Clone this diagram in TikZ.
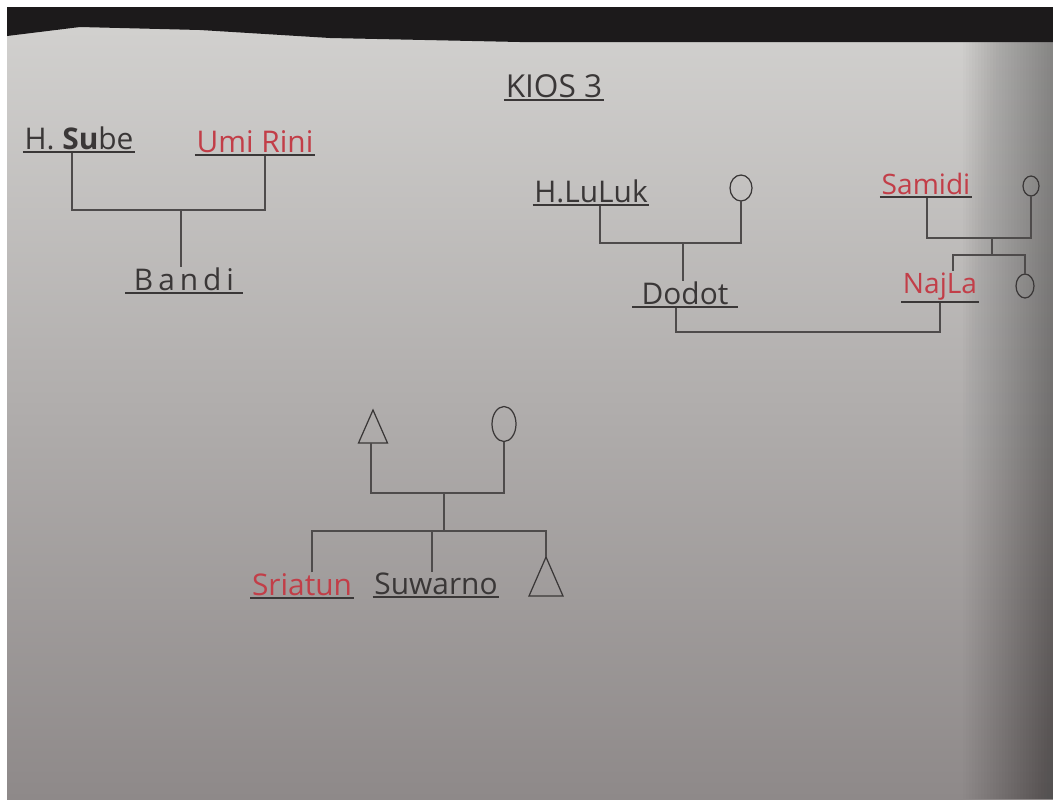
\documentclass[tikz,border=0pt]{standalone}
\usepackage{fontspec}
\setmainfont{Open Sans}
\usetikzlibrary{positioning,shapes.geometric}
\definecolor{paper}{HTML}{D3D2D0}
\definecolor{paperdark}{HTML}{8E8989}
\definecolor{night}{HTML}{1C1A1B}
\definecolor{ink}{HTML}{3A3737}
\definecolor{redink}{HTML}{C23E48}
\tikzset{
  person/.style={anchor=south, inner sep=1pt, outer sep=0pt, text=ink, font=\fontsize{17}{19}\selectfont},
  female/.style={person, text=redink, font=\fontsize{16}{18}\selectfont},
  uline/.style={draw=ink, line width=0.7pt},
  link/.style={draw=ink!90, line width=0.6pt},
  girl/.style={ellipse, draw=ink, line width=0.7pt, inner sep=0pt, outer sep=0pt},
  boy/.style={isosceles triangle, isosceles triangle stretches, shape border rotate=90, anchor=apex, draw=ink, line width=0.7pt, inner sep=0pt, outer sep=0pt}
}

\begin{document}
\begin{tikzpicture}[x=0.02cm, y=-0.02cm]
  \useasboundingbox (0,0) rectangle (1053,799);
  % photo of the sheet
  \fill[white] (0,0) rectangle (1053,799);
  \shade[top color=paper, bottom color=paperdark] (7,7) rectangle (1053,799);
  \foreach \i in {0,...,29}
    \fill[black, opacity=0.012] (963+\i*3,7) rectangle (1053,799);
  \fill[night] (7,7) -- (1053,7) -- (1053,42) -- (520,42) -- (330,38) -- (200,30) -- (80,27) -- (7,36) -- cycle;

  \node[person, minimum width=1.7cm, font=\fontsize{18}{20}\selectfont] (title) at (554,100) {KIOS 3};

  % left family
  \node[person, minimum width=1.96cm] (sube) at (79,152) {H. \textbf{Su}be};
  \node[female, minimum width=2cm, font=\fontsize{17}{19}\selectfont] (rini) at (255,155) {Umi Rini};
  \node[person, minimum width=2.36cm] (bandi) at (184,293) {B\,a\,n\,d\,i};
  \coordinate (c1l) at (72,210); \coordinate (c1r) at (265,210); \coordinate (c1m) at (181,210);
  \draw[link] (sube.south -| c1l) -- (c1l) -- (c1r) -- (rini.south -| c1r);
  \draw[link] (c1m) -- (bandi.north -| c1m);

  % right families
  \node[person, minimum width=1.78cm] (luluk) at (591,205) {H.LuLuk};
  \node[girl, minimum width=0.44cm, minimum height=0.52cm] (w1) at (741,188) {};
  \node[person, minimum width=2.12cm] (dodot) at (685,307) {Dodot};
  \coordinate (c2l) at (600,243); \coordinate (c2m) at (683,243);
  \draw[link] (luluk.south -| c2l) -- (c2l) -| (w1.south);
  \draw[link] (c2m) -- (dodot.north -| c2m);

  \node[female, minimum width=1.52cm] (samidi) at (926,197) {Samidi};
  \node[girl, minimum width=0.32cm, minimum height=0.4cm] (w2) at (1031,186) {};
  \node[female, minimum width=1.4cm] (najla) at (940,302) {NajLa};
  \node[girl, minimum width=0.36cm, minimum height=0.48cm] (sis1) at (1025,286) {};
  \coordinate (c3l) at (927,238); \coordinate (c3m) at (992,238);
  \coordinate (s1l) at (953,255); \coordinate (s1m) at (992,255);
  \draw[link] (samidi.south -| c3l) -- (c3l) -| (w2.south);
  \draw[link] (c3m) -- (s1m);
  \draw[link] (najla.north -| s1l) -- (s1l) -| (sis1.north);

  \coordinate (m1) at (676,332); \coordinate (m2) at (940,332);
  \draw[link] (dodot.south -| m1) -- (m1) -- (m2) -- (najla.south -| m2);

  % bottom family
  \node[boy, minimum width=0.58cm, minimum height=0.66cm] (f1) at (373,410) {};
  \node[girl, minimum width=0.48cm, minimum height=0.7cm] (m3) at (504,424) {};
  \node[female, minimum width=1.82cm, font=\fontsize{17}{19}\selectfont] (sriatun) at (302,598) {Sriatun};
  \node[person, minimum width=2.14cm] (suwarno) at (436,597) {Suwarno};
  \node[boy, minimum width=0.68cm, minimum height=0.78cm] (b2) at (546,557) {};
  \coordinate (c4l) at (371,493); \coordinate (c4m) at (444,493);
  \coordinate (s2l) at (312,531); \coordinate (s2m) at (432,531);
  \draw[link] (f1.south -| c4l) -- (c4l) -| (m3.south);
  \draw[link] (c4m) -- (c4m |- s2l);
  \draw[link] (sriatun.north -| s2l) -- (s2l) -| (b2.apex);
  \draw[link] (s2m) -- (suwarno.north -| s2m);

  \foreach \n in {title,sube,rini,bandi,luluk,dodot,samidi,najla,sriatun,suwarno}
    \draw[uline] (\n.south west) -- (\n.south east);
\end{tikzpicture}
\end{document}
